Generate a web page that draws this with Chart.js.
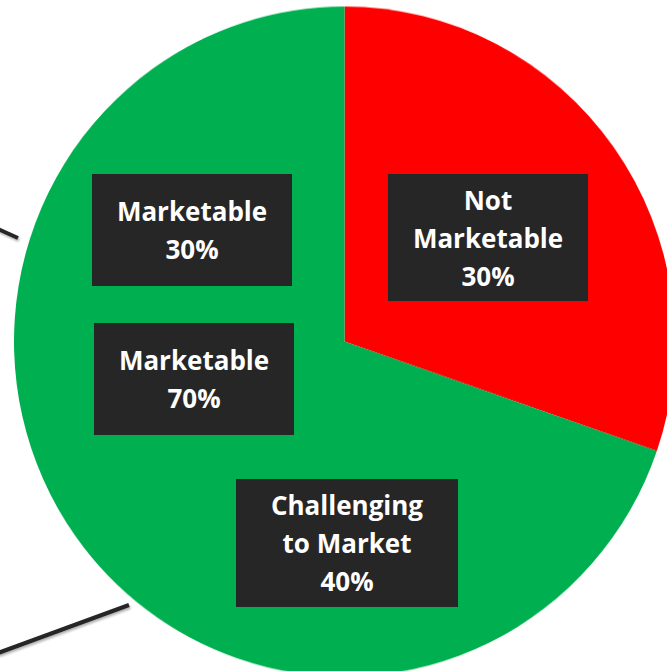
<!DOCTYPE html>
<html>
<head>
<meta charset="utf-8">
<script src="https://cdn.jsdelivr.net/npm/chart.js@4"></script>
<style>
  html, body { margin: 0; padding: 0; background: #fff; overflow: hidden; }
  body { width: 667px; height: 671px; position: relative; }
  #wrap {
    position: absolute; left: 13.5px; top: 10.5px; width: 661px; height: 661px;
    transform: scaleY(1.0136); transform-origin: 50% 50%;
  }
  .box {
    position: absolute; background: #262626; color: #fff;
    font-family: 'Open Sans', sans-serif; font-weight: 700; font-size: 26px;
    line-height: 38px; text-align: center;
    display: flex; flex-direction: column; justify-content: center;
  }
  svg { position: absolute; left: 0; top: 0; }
</style>
</head>
<body>
<div id="wrap"><canvas id="pie"></canvas></div>
<svg width="667" height="671">
  <defs>
    <filter id="sh" x="-10%" y="-50%" width="130%" height="300%">
      <feDropShadow dx="1" dy="2" stdDeviation="1.2" flood-color="#000" flood-opacity="0.3"/>
    </filter>
  </defs>
  <line x1="-2" y1="229" x2="18" y2="238" stroke="#262626" stroke-width="4" filter="url(#sh)"/>
  <line x1="-2" y1="653" x2="129" y2="605" stroke="#262626" stroke-width="4" filter="url(#sh)"/>
</svg>
<div id="labels"></div>
<script>
'use strict';

const sliceLabels = ['Not Marketable', 'Marketable'];
const sliceValues = [30.3, 69.7];
const sliceColors = ['#FF0000', '#00AF50'];

// label boxes: text lines
const boxTexts = [
  ['Not', 'Marketable', '30%'],
  ['Marketable', '30%'],
  ['Marketable', '70%'],
  ['Challenging', 'to Market', '40%'],
];
const boxPos = [
  { l: 388, t: 174, w: 200, h: 127 },
  { l: 92,  t: 174, w: 200, h: 112 },
  { l: 94,  t: 323, w: 200, h: 112 },
  { l: 236, t: 479, w: 222, h: 128 },
];

const holder = document.getElementById('labels');
boxTexts.forEach((lines, i) => {
  const p = boxPos[i];
  const d = document.createElement('div');
  d.className = 'box';
  d.style.left = p.l + 'px'; d.style.top = p.t + 'px';
  d.style.width = p.w + 'px'; d.style.height = p.h + 'px';
  lines.forEach(s => {
    const span = document.createElement('div');
    span.textContent = s;
    d.appendChild(span);
  });
  holder.appendChild(d);
});

new Chart(document.getElementById('pie').getContext('2d'), {
  type: 'pie',
  data: {
    labels: sliceLabels,
    datasets: [{
      data: sliceValues,
      backgroundColor: sliceColors,
      borderWidth: 0,
    }],
  },
  options: {
    responsive: true,
    maintainAspectRatio: false,
    animation: false,
    layout: { padding: 0 },
    plugins: {
      legend:  { display: false },
      tooltip: { enabled: false },
    },
  },
});
</script>
</body>
</html>
